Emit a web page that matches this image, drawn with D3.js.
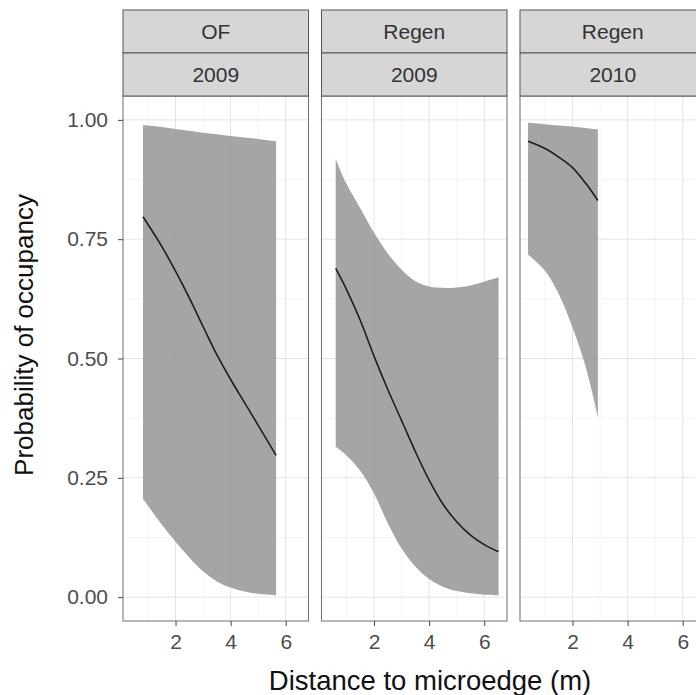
<!DOCTYPE html>
<html>
<head>
<meta charset="utf-8">
<script src="https://cdn.jsdelivr.net/npm/d3@7"></script>
<style>
  html, body { margin: 0; padding: 0; background: #fff; }
  svg { display: block; }
  text { font-family: "Liberation Sans", Arial, Helvetica, sans-serif; }
</style>
</head>
<body>
<svg id="chart" width="696" height="695"></svg>
<script>
// ---- data ----
const habitats = ["OF", "Regen", "Regen"];
const years = ["2009", "2009", "2010"];

const of09X     = [0.82, 1.5, 2.0, 2.5, 3.0, 3.5, 4.0, 4.5, 5.0, 5.65];
const of09Fit   = [0.797, 0.735, 0.683, 0.627, 0.567, 0.508, 0.456, 0.408, 0.360, 0.297];
const of09Lo    = [0.206, 0.152, 0.116, 0.083, 0.054, 0.033, 0.020, 0.012, 0.007, 0.004];
const of09Hi    = [0.989, 0.985, 0.981, 0.977, 0.973, 0.970, 0.966, 0.963, 0.960, 0.955];

const rg09X     = [0.61, 1.0, 1.5, 2.0, 2.5, 3.0, 3.5, 4.0, 4.5, 5.0, 5.5, 6.0, 6.52];
const rg09Fit   = [0.689, 0.645, 0.580, 0.505, 0.435, 0.370, 0.305, 0.245, 0.195, 0.158, 0.130, 0.110, 0.095];
const rg09Lo    = [0.315, 0.297, 0.265, 0.217, 0.155, 0.102, 0.064, 0.038, 0.022, 0.013, 0.008, 0.005, 0.004];
const rg09Hi    = [0.918, 0.866, 0.815, 0.764, 0.720, 0.686, 0.662, 0.651, 0.648, 0.649, 0.653, 0.661, 0.670];

const rg10X     = [0.385, 1.0, 1.5, 2.0, 2.48, 2.92];
const rg10Fit   = [0.955, 0.940, 0.922, 0.900, 0.867, 0.831];
const rg10Lo    = [0.718, 0.684, 0.635, 0.565, 0.482, 0.377];
const rg10Hi    = [0.994, 0.991, 0.988, 0.986, 0.983, 0.980];

const xTicks = [2, 4, 6];
const xMinor = [1, 3, 5];
const yTicks = [0, 0.25, 0.5, 0.75, 1.0];
const yTickLabels = ["0.00", "0.25", "0.50", "0.75", "1.00"];
const yMinor = [0.125, 0.375, 0.625, 0.875];

const xTitle = "Distance to microedge (m)";
const yTitle = "Probability of occupancy";

const panels = [
  { x: of09X, fit: of09Fit, lo: of09Lo, hi: of09Hi },
  { x: rg09X, fit: rg09Fit, lo: rg09Lo, hi: rg09Hi },
  { x: rg10X, fit: rg10Fit, lo: rg10Lo, hi: rg10Hi }
];

// ---- layout ----
const svg = d3.select("#chart");
const panelLeft0 = 123, panelW = 185.5, panelGap = 13;
const plotTop = 96, plotBottom = 621;
const stripTop = 10, stripH = 43;

const xDomain = [0.094, 6.826];
const yScale = d3.scaleLinear().domain([-0.05, 1.05]).range([plotBottom, plotTop]);
const curve = d3.curveCatmullRom.alpha(0.5);

panels.forEach((p, i) => {
  const left = panelLeft0 + i * (panelW + panelGap);
  const xScale = d3.scaleLinear().domain(xDomain).range([left, left + panelW]);
  const g = svg.append("g");

  // background grid
  g.selectAll(".ymin").data(yMinor).enter().append("line")
    .attr("x1", left).attr("x2", left + panelW)
    .attr("y1", d => yScale(d)).attr("y2", d => yScale(d))
    .attr("stroke", "#efefef").attr("stroke-width", 0.7);
  g.selectAll(".xmin").data(xMinor).enter().append("line")
    .attr("y1", plotTop).attr("y2", plotBottom)
    .attr("x1", d => xScale(d)).attr("x2", d => xScale(d))
    .attr("stroke", "#efefef").attr("stroke-width", 0.7);
  g.selectAll(".ymaj").data(yTicks).enter().append("line")
    .attr("x1", left).attr("x2", left + panelW)
    .attr("y1", d => yScale(d)).attr("y2", d => yScale(d))
    .attr("stroke", "#e4e4e4").attr("stroke-width", 1);
  g.selectAll(".xmaj").data(xTicks).enter().append("line")
    .attr("y1", plotTop).attr("y2", plotBottom)
    .attr("x1", d => xScale(d)).attr("x2", d => xScale(d))
    .attr("stroke", "#e4e4e4").attr("stroke-width", 1);

  const rows = p.x.map((x, k) => ({ x, fit: p.fit[k], lo: p.lo[k], hi: p.hi[k] }));

  const area = d3.area()
    .x(d => xScale(d.x)).y0(d => yScale(d.lo)).y1(d => yScale(d.hi))
    .curve(curve);
  g.append("path").datum(rows).attr("d", area)
    .attr("fill", "#969696").attr("fill-opacity", 0.86);

  const line = d3.line().x(d => xScale(d.x)).y(d => yScale(d.fit)).curve(curve);
  g.append("path").datum(rows).attr("d", line)
    .attr("fill", "none").attr("stroke", "#1e1e1e").attr("stroke-width", 1.6);

  // panel border
  g.append("rect").attr("x", left).attr("y", plotTop)
    .attr("width", panelW).attr("height", plotBottom - plotTop)
    .attr("fill", "none").attr("stroke", "#6e6e6e").attr("stroke-width", 1);

  // strips
  [habitats[i], years[i]].forEach((lab, r) => {
    const sy = stripTop + r * stripH;
    g.append("rect").attr("x", left).attr("y", sy)
      .attr("width", panelW).attr("height", stripH)
      .attr("fill", "#d6d6d6").attr("stroke", "#555").attr("stroke-width", 1);
    g.append("text").attr("x", left + panelW / 2).attr("y", sy + stripH / 2)
      .attr("dy", "0.36em").attr("text-anchor", "middle")
      .attr("font-size", 21).attr("fill", "#333").text(lab);
  });

  // x axis
  const xAxis = d3.axisBottom(xScale).tickValues(xTicks).tickFormat(d3.format("d"))
    .tickSize(5).tickPadding(8);
  const ax = g.append("g").attr("transform", `translate(0,${plotBottom})`).call(xAxis);
  ax.select(".domain").remove();
  ax.selectAll(".tick line").attr("stroke", "#444");
  ax.selectAll(".tick text").attr("font-size", 21).attr("fill", "#4d4d4d")
    .attr("font-family", "Liberation Sans, Arial, sans-serif");
});

// y axis
const yAxis = d3.axisLeft(yScale).tickValues(yTicks)
  .tickFormat((d, i) => yTickLabels[i]).tickSize(5).tickPadding(10);
const ay = svg.append("g").attr("transform", `translate(${panelLeft0},0)`).call(yAxis);
ay.select(".domain").remove();
ay.selectAll(".tick line").attr("stroke", "#444");
ay.selectAll(".tick text").attr("font-size", 21).attr("fill", "#4d4d4d")
  .attr("font-family", "Liberation Sans, Arial, sans-serif");

// axis titles
svg.append("text").attr("x", 430).attr("y", 690).attr("text-anchor", "middle")
  .attr("font-size", 27.5).attr("fill", "#111").text(xTitle);
svg.append("text").attr("transform", "translate(33,335) rotate(-90)")
  .attr("text-anchor", "middle").attr("font-size", 26).attr("fill", "#111").text(yTitle);
</script>
</body>
</html>
